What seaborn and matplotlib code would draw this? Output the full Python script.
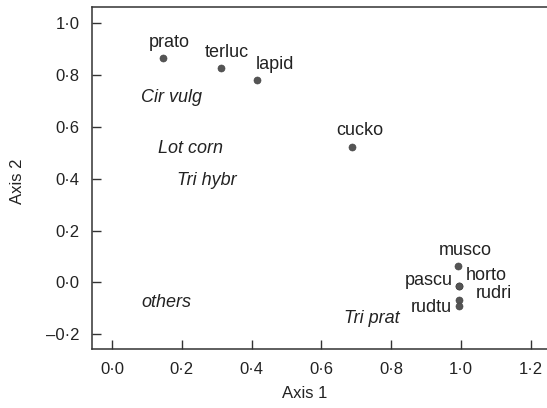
import matplotlib
matplotlib.use("Agg")
import matplotlib.pyplot as plt
import matplotlib.ticker as mticker
import seaborn as sns
import pandas as pd

# species scores (points with labels)
species = ["prato", "terluc", "lapid", "cucko", "musco", "pascu", "horto", "rudri", "rudtu"]
axis1 = [0.146, 0.312, 0.415, 0.687, 0.991, 0.994, 0.994, 0.994, 0.994]
axis2 = [0.865, 0.826, 0.780, 0.522, 0.063, -0.015, -0.015, -0.069, -0.091]

# plant group labels (text only, italic)
plants = ["Cir vulg", "Lot corn", "Tri hybr", "others", "Tri prat"]
plant_x = [0.172, 0.226, 0.272, 0.155, 0.744]
plant_y = [0.714, 0.517, 0.394, -0.076, -0.138]

xticks = [0.0, 0.2, 0.4, 0.6, 0.8, 1.0, 1.2]
yticks = [-0.2, 0.0, 0.2, 0.4, 0.6, 0.8, 1.0]

sns.set_style("ticks")
plt.rcParams['font.family'] = ['Liberation Sans', 'DejaVu Sans']

df = pd.DataFrame({'species': species, 'axis1': axis1, 'axis2': axis2})

fig = plt.figure(figsize=(5.47, 4.08), dpi=100)
ax = fig.add_axes([92 / 547, 59 / 408, 456 / 547, 342 / 408])

sns.scatterplot(data=df, x='axis1', y='axis2', ax=ax, color='#555555', s=26,
                edgecolor='#444444', linewidth=0.4, zorder=3)

# label offsets in pixels (dx, dy, ha)
offsets = {
    "prato": (6, 16, 'center'), "terluc": (6, 16, 'center'), "lapid": (18, 16, 'center'),
    "cucko": (8, 17, 'center'), "musco": (7, 16, 'center'), "pascu": (-6, 6, 'right'),
    "horto": (7, 11, 'left'), "rudri": (17, 7, 'left'), "rudtu": (-7, -2, 'right'),
}
for name, x, y in zip(species, axis1, axis2):
    dx, dy, ha = offsets[name]
    ax.annotate(name, (x, y), xytext=(dx, dy), textcoords='offset pixels',
                ha=ha, va='center', fontsize=13, color='#222222')

for name, x, y in zip(plants, plant_x, plant_y):
    ax.text(x, y, name, ha='center', va='center', fontsize=13, style='italic', color='#222222')

ax.set_xlim(-0.057, 1.249)
ax.set_ylim(-0.257, 1.062)
ax.set_xticks(xticks)
ax.set_yticks(yticks)

def fmt(v, pos):
    s = "%.1f" % abs(v)
    s = s.replace(".", "\u00b7")
    return ("\u2013" + s) if v < -1e-9 else s

ax.xaxis.set_major_formatter(mticker.FuncFormatter(fmt))
ax.yaxis.set_major_formatter(mticker.FuncFormatter(fmt))
ax.tick_params(direction='in', length=6.5, width=1, color='#333333', labelsize=12,
               labelcolor='#222222', pad=9)

for side in ['left', 'bottom', 'top']:
    ax.spines[side].set_color('#333333')
    ax.spines[side].set_linewidth(1.1)
ax.spines['right'].set_visible(False)

ax.set_xlabel('Axis 1', fontsize=12, color='#222222')
ax.set_ylabel('Axis 2', fontsize=12, color='#222222')
ax.xaxis.set_label_coords((305 - 92) / 456, -(386 - 349) / 342)
ax.yaxis.set_label_coords(-(92 - 25) / 456, 0.49)

fig.savefig('out.png', dpi=100)
